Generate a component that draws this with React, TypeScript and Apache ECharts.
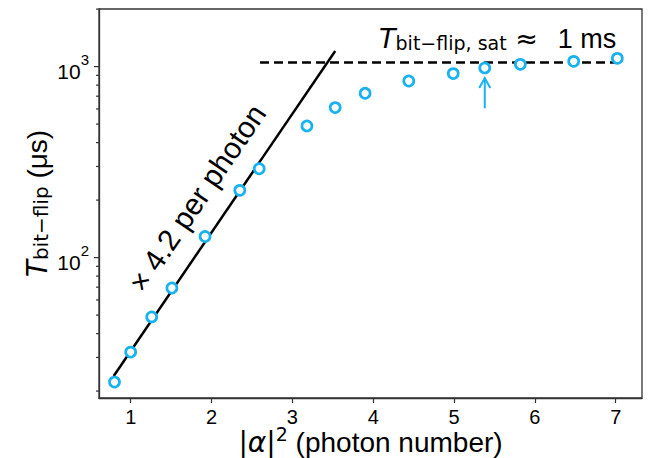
import React, { useEffect, useRef } from 'react';
import * as echarts from 'echarts';

// ---- data ----
const photonNumber = [0.8, 1.0, 1.26, 1.51, 1.92, 2.35, 2.59, 3.18, 3.53, 3.9, 4.44, 4.99, 5.38, 5.82, 6.48, 7.02];
const tBitFlip = [22.3, 32.0, 48.9, 69.3, 129, 225, 292, 489, 610, 725, 841, 919, 984, 1028, 1066, 1105];

const fitLineX = [0.79, 3.53];
const fitLineY = [24.0, 1207];

const satLineX = [2.6, 7.0];
const satLineY = [1050, 1050];

const arrowX = [5.38, 5.38];
const arrowY = [605, 872];

const xTicks = [1, 2, 3, 4, 5, 6, 7];
const yMajorTicks = [100, 1000];
const yMajorLabels = [['10', '2'], ['10', '3']];
const yMinorTicks = [20, 30, 40, 50, 60, 70, 80, 90, 200, 300, 400, 500, 600, 700, 800, 900, 2000];

const X_MIN = 0.608;
const X_MAX = 7.325;
const Y_MIN = 18.4;
const Y_MAX = 2003;

// annotation anchors (data coordinates)
const slopeLabelAt = [1.82, 205];
const satLabelAt = [5.54, 1400];

const CYAN = '#17b2ef';
const SPINE = '#333333';
const ARIAL = '"Liberation Sans", Arial, sans-serif';
const DEJAVU = '"DejaVu Sans", sans-serif';

export default function App() {
  const ref = useRef<HTMLDivElement>(null);

  useEffect(() => {
    document.body.style.margin = '0';
    if (!ref.current) return;
    const chart = echarts.init(ref.current, undefined, { renderer: 'svg' });

    const yTickData = [
      ...yMajorTicks.map((v, i) => [X_MIN, v, 1, i]),
      ...yMinorTicks.map((v) => [X_MIN, v, 0, -1]),
    ];

    const option: any = {
      animation: false,
      backgroundColor: '#ffffff',
      grid: {
        left: 99,
        right: 9,
        top: 9,
        bottom: 60,
        show: true,
        borderColor: SPINE,
        borderWidth: 1.3,
        outerBoundsMode: 'none',
      },
      xAxis: {
        type: 'value',
        min: X_MIN,
        max: X_MAX,
        splitLine: { show: false },
        axisLine: { show: true, lineStyle: { color: SPINE, width: 1.3 } },
        axisTick: {
          show: true,
          inside: false,
          length: 5,
          customValues: xTicks,
          lineStyle: { color: SPINE, width: 1.2 },
        },
        axisLabel: {
          customValues: xTicks,
          margin: 9,
          fontSize: 20,
          fontFamily: ARIAL,
          color: '#000',
        },
        name: '{v||}{a|α}{v||}{s|2}{n| (photon number)}',
        nameLocation: 'middle',
        nameGap: 26,
        nameMoveOverlap: false,
        nameTextStyle: {
          rich: {
            v: { fontFamily: DEJAVU, fontSize: 28, lineHeight: 32, color: '#000', verticalAlign: 'bottom' },
            a: { fontFamily: DEJAVU, fontStyle: 'italic', fontSize: 28, lineHeight: 32, color: '#000', verticalAlign: 'bottom' },
            s: { fontFamily: DEJAVU, fontSize: 19, lineHeight: 15, color: '#000', verticalAlign: 'top' },
            n: { fontFamily: ARIAL, fontSize: 28, lineHeight: 32, color: '#000', verticalAlign: 'bottom' },
          },
        },
      },
      yAxis: {
        type: 'log',
        logBase: 10,
        min: Y_MIN,
        max: Y_MAX,
        splitLine: { show: false },
        axisLine: { show: true, lineStyle: { color: SPINE, width: 1.3 } },
        axisTick: { show: false },
        axisLabel: { show: false },
        name: '{t|T}{b|bit−flip}{n| (μs)}',
        nameLocation: 'middle',
        nameRotate: 90,
        nameGap: 48,
        nameMoveOverlap: false,
        nameTextStyle: {
          rich: {
            t: { fontFamily: DEJAVU, fontStyle: 'italic', fontSize: 28, lineHeight: 28, color: '#000', verticalAlign: 'bottom' },
            b: { fontFamily: DEJAVU, fontSize: 20, lineHeight: 20, color: '#000', verticalAlign: 'bottom' },
            n: { fontFamily: ARIAL, fontSize: 28, lineHeight: 28, color: '#000', verticalAlign: 'bottom' },
          },
        },
      },
      series: [
        {
          name: 'y ticks',
          type: 'custom',
          coordinateSystem: 'cartesian2d',
          silent: true,
          clip: false,
          z: 5,
          data: yTickData,
          renderItem: (params: any, api: any) => {
            const v = api.value(1);
            const major = api.value(2) === 1;
            const idx = api.value(3);
            const y = api.coord([X_MIN, v])[1];
            const x0 = params.coordSys.x;
            const len = major ? 5 : 3;
            const children: any[] = [
              {
                type: 'line',
                shape: { x1: x0 - len, y1: y, x2: x0, y2: y },
                style: { stroke: SPINE, lineWidth: 1.2 },
              },
            ];
            if (major && idx >= 0) {
              const lab = yMajorLabels[idx];
              children.push({
                type: 'text',
                x: x0 - 10,
                y: y,
                style: {
                  text: `{b|${lab[0]}}{s|${lab[1]}}`,
                  align: 'right',
                  verticalAlign: 'middle',
                  fill: '#000',
                  rich: {
                    b: { fontSize: 21, lineHeight: 30, fontFamily: ARIAL, fill: '#000', verticalAlign: 'bottom' },
                    s: { fontSize: 15, lineHeight: 15, fontFamily: ARIAL, fill: '#000', verticalAlign: 'top' },
                  },
                },
              });
            }
            return { type: 'group', children };
          },
        },
        {
          name: 'fit',
          type: 'line',
          data: fitLineX.map((x, i) => [x, fitLineY[i]]),
          symbol: 'none',
          lineStyle: { color: '#000', width: 2.5 },
          z: 2,
        },
        {
          name: 'saturation',
          type: 'line',
          data: satLineX.map((x, i) => [x, satLineY[i]]),
          symbol: 'none',
          lineStyle: { color: '#000', width: 2.5, type: [9, 5] },
          z: 2,
        },
        {
          name: 'arrow',
          type: 'custom',
          coordinateSystem: 'cartesian2d',
          silent: true,
          z: 3,
          data: [[arrowX[0], arrowY[0]]],
          renderItem: (_params: any, api: any) => {
            const p0 = api.coord([arrowX[0], arrowY[0]]);
            const p1 = api.coord([arrowX[1], arrowY[1]]);
            return {
              type: 'group',
              children: [
                { type: 'line', shape: { x1: p0[0], y1: p0[1], x2: p1[0], y2: p1[1] }, style: { stroke: CYAN, lineWidth: 2 } },
                {
                  type: 'polyline',
                  shape: { points: [[p1[0] - 5.5, p1[1] + 10], [p1[0], p1[1]], [p1[0] + 5.5, p1[1] + 10]] },
                  style: { stroke: CYAN, lineWidth: 2, fill: 'none' },
                },
              ],
            };
          },
        },
        {
          name: 'data',
          type: 'scatter',
          data: photonNumber.map((x, i) => [x, tBitFlip[i]]),
          symbol: 'circle',
          symbolSize: 10,
          itemStyle: { color: '#ffffff', borderColor: CYAN, borderWidth: 2.7, opacity: 1 },
          z: 4,
        },
        {
          name: 'annotations',
          type: 'custom',
          coordinateSystem: 'cartesian2d',
          silent: true,
          clip: false,
          z: 6,
          data: [[slopeLabelAt[0], slopeLabelAt[1], 0], [satLabelAt[0], satLabelAt[1], 1]],
          renderItem: (_params: any, api: any) => {
            const kind = api.value(2);
            const p = api.coord([api.value(0), api.value(1)]);
            if (kind === 0) {
              const a = api.coord([fitLineX[0], fitLineY[0]]);
              const b = api.coord([fitLineX[1], fitLineY[1]]);
              const ang = Math.atan2(a[1] - b[1], b[0] - a[0]);
              return {
                type: 'text',
                x: p[0],
                y: p[1],
                rotation: ang,
                style: {
                  text: '× 4.2 per photon',
                  fontFamily: ARIAL,
                  fontSize: 30,
                  fill: '#000',
                  align: 'center',
                  verticalAlign: 'middle',
                },
              };
            }
            return {
              type: 'text',
              x: p[0],
              y: p[1],
              style: {
                text: '{t|T}{b|bit−flip, sat}{a| ≈}{n|1 ms}',
                align: 'center',
                verticalAlign: 'middle',
                fill: '#000',
                rich: {
                  t: { fontFamily: DEJAVU, fontStyle: 'italic', fontSize: 27, lineHeight: 27, fill: '#000', verticalAlign: 'bottom' },
                  b: { fontFamily: DEJAVU, fontSize: 19, lineHeight: 19, fill: '#000', verticalAlign: 'bottom' },
                  a: { fontFamily: DEJAVU, fontSize: 27, lineHeight: 27, fill: '#000', verticalAlign: 'bottom' },
                  n: { fontFamily: ARIAL, fontSize: 27, lineHeight: 27, fill: '#000', verticalAlign: 'bottom', padding: [0, 0, 0, 20] },
                },
              },
            };
          },
        },
      ],
    };

    chart.setOption(option);
    return () => chart.dispose();
  }, []);

  return <div ref={ref} style={{ width: 651, height: 458 }} />;
}
